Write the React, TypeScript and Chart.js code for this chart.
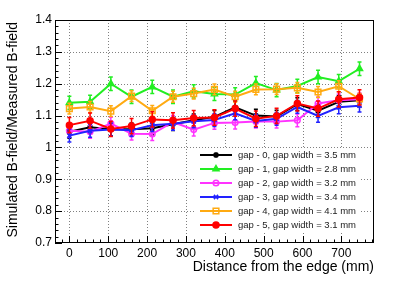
import React, { useEffect, useRef } from 'react';
import { Chart, registerables } from 'chart.js';
import { drawPoint } from 'chart.js/helpers';

Chart.register(...registerables);

// Distance from the edge (mm)
const distances = [0, 53.3, 106.7, 160, 213.3, 266.7, 320, 373.3, 426.7, 480, 533.3, 586.7, 640, 693.3, 746.7];

// Simulated / measured B-field ratio per gap
const gap0 = [1.049, 1.063, 1.057, 1.057, 1.060, 1.073, 1.085, 1.096, 1.126, 1.100, 1.097, 1.136, 1.115, 1.143, 1.148];
const gap1 = [1.140, 1.143, 1.200, 1.159, 1.190, 1.159, 1.176, 1.168, 1.166, 1.202, 1.180, 1.193, 1.221, 1.208, 1.247];
const gap2 = [1.052, 1.049, 1.075, 1.043, 1.042, 1.080, 1.056, 1.077, 1.078, 1.081, 1.081, 1.085, 1.138, 1.148, 1.151];
const gap3 = [1.037, 1.052, 1.056, 1.054, 1.070, 1.074, 1.082, 1.086, 1.107, 1.083, 1.090, 1.127, 1.099, 1.126, 1.131];
const gap4 = [1.122, 1.127, 1.114, 1.161, 1.115, 1.159, 1.169, 1.182, 1.159, 1.182, 1.183, 1.187, 1.174, 1.192, 1.152];
const gap5 = [1.070, 1.084, 1.058, 1.067, 1.088, 1.085, 1.092, 1.094, 1.122, 1.090, 1.099, 1.138, 1.122, 1.151, 1.157];

// Uncertainty per series
const errGap0 = 0.02;
const errGap1 = 0.021;
const errGap2 = 0.02;
const errGap3 = 0.02;
const errGap4 = 0.017;
const errGap5 = 0.024;

const seriesLabels = [
  'gap - 0, gap width = 3.5 mm',
  'gap - 1, gap width = 2.8 mm',
  'gap - 2, gap width = 3.2 mm',
  'gap - 3, gap width = 3.4 mm',
  'gap - 4, gap width = 4.1 mm',
  'gap - 5, gap width = 3.1 mm',
];

const xTickValues = [0, 100, 200, 300, 400, 500, 600, 700];
const yTickValues = [0.7, 0.8, 0.9, 1.0, 1.1, 1.2, 1.3, 1.4];

const xTitle = 'Distance from the edge (mm)';
const yTitle = 'Simulated B-field/Measured B-field';

const FONT = '"Liberation Sans", Arial, Helvetica, sans-serif';

const seriesValues = [gap0, gap1, gap2, gap3, gap4, gap5];
const seriesErrors = [errGap0, errGap1, errGap2, errGap3, errGap4, errGap5];
const seriesStyles = [
  { color: '#000000', pointStyle: 'star', radius: 3, fill: '#000000' },
  { color: '#22ee22', pointStyle: 'triangle', radius: 3.5, fill: '#22ee22' },
  { color: '#ff33ff', pointStyle: 'circle', radius: 2.8, fill: 'rgba(0,0,0,0)' },
  { color: '#2222ff', pointStyle: 'crossRot', radius: 3, fill: '#2222ff' },
  { color: '#ffaa11', pointStyle: 'rect', radius: 4, fill: 'rgba(0,0,0,0)' },
  { color: '#ff0000', pointStyle: 'circle', radius: 3, fill: '#ff0000' },
];

const rootPlugin = {
  id: 'rootStyle',
  beforeDatasetsDraw(chart: any) {
    const { ctx, chartArea, scales } = chart;
    const { left, right, top, bottom } = chartArea;
    const xs = scales.x;
    const ys = scales.y;
    ctx.save();
    // grid
    ctx.strokeStyle = '#808080';
    ctx.lineWidth = 1;
    ctx.setLineDash([1, 2]);
    xTickValues.forEach((v) => {
      const px = Math.round(xs.getPixelForValue(v)) + 0.5;
      if (px <= left + 1 || px >= right - 1) return;
      ctx.beginPath();
      ctx.moveTo(px, top);
      ctx.lineTo(px, bottom);
      ctx.stroke();
    });
    yTickValues.forEach((v) => {
      const py = Math.round(ys.getPixelForValue(v)) + 0.5;
      if (py <= top + 1 || py >= bottom - 1) return;
      ctx.beginPath();
      ctx.moveTo(left, py);
      ctx.lineTo(right, py);
      ctx.stroke();
    });
    ctx.setLineDash([]);
    // ticks
    ctx.strokeStyle = '#000';
    ctx.lineWidth = 1;
    const xMinor = 20;
    for (let v = Math.ceil(xs.min / xMinor) * xMinor; v <= xs.max; v += xMinor) {
      const px = Math.round(xs.getPixelForValue(v)) + 0.5;
      const major = Math.abs(v % 100) < 1e-6;
      ctx.beginPath();
      ctx.moveTo(px, bottom);
      ctx.lineTo(px, bottom - (major ? 7 : 3.5));
      ctx.stroke();
    }
    const yMinor = 0.02;
    for (let k = 0; k <= Math.round((ys.max - ys.min) / yMinor); k++) {
      const v = ys.min + k * yMinor;
      const py = Math.round(ys.getPixelForValue(v)) + 0.5;
      const major = k % 5 === 0;
      ctx.beginPath();
      ctx.moveTo(left, py);
      ctx.lineTo(left + (major ? 7 : 3.5), py);
      ctx.stroke();
    }
    // frame
    ctx.strokeRect(left + 0.5, top + 0.5, right - left - 1, bottom - top - 1);
    ctx.restore();
  },
  beforeDatasetDraw(chart: any, args: any) {
    const { ctx } = chart;
    const ys = chart.scales.y;
    const i = args.index;
    const style = seriesStyles[i];
    const err = seriesErrors[i];
    const vals = seriesValues[i];
    ctx.save();
    ctx.strokeStyle = style.color;
    ctx.lineWidth = 1.5;
    args.meta.data.forEach((pt: any, j: number) => {
      const x = pt.x;
      const y1 = ys.getPixelForValue(vals[j] + err);
      const y2 = ys.getPixelForValue(vals[j] - err);
      ctx.beginPath();
      ctx.moveTo(x, y1);
      ctx.lineTo(x, y2);
      ctx.moveTo(x - 2, y1);
      ctx.lineTo(x + 2, y1);
      ctx.moveTo(x - 2, y2);
      ctx.lineTo(x + 2, y2);
      ctx.stroke();
    });
    ctx.restore();
  },
  afterDatasetsDraw(chart: any) {
    const { ctx } = chart;
    ctx.save();
    // legend box
    ctx.fillStyle = '#ffffff';
    ctx.fillRect(196, 148, 165, 83);
    seriesLabels.forEach((label, i) => {
      const style = seriesStyles[i];
      const cy = 155 + i * 14;
      ctx.strokeStyle = style.color;
      ctx.lineWidth = 2;
      ctx.beginPath();
      ctx.moveTo(200, cy);
      ctx.lineTo(232, cy);
      ctx.stroke();
      ctx.fillStyle = style.fill;
      ctx.lineWidth = 1.5;
      drawPoint(ctx, { pointStyle: style.pointStyle, radius: style.radius, rotation: 0, borderWidth: 1.5 } as any, 216, cy);
      ctx.fillStyle = '#222';
      ctx.font = `9.5px ${FONT}`;
      ctx.textAlign = 'left';
      ctx.textBaseline = 'middle';
      ctx.fillText(label, 238, cy + 0.5);
    });
    ctx.restore();
  },
  afterDraw(chart: any) {
    const { ctx, chartArea } = chart;
    ctx.save();
    ctx.fillStyle = '#000';
    ctx.font = `14px ${FONT}`;
    ctx.textAlign = 'right';
    ctx.textBaseline = 'middle';
    ctx.fillText(xTitle, chartArea.right, 267);
    ctx.translate(13.5, chartArea.top + 2);
    ctx.rotate(-Math.PI / 2);
    ctx.fillText(yTitle, 0, 0);
    ctx.restore();
  },
};

export default function App() {
  const canvasRef = useRef<HTMLCanvasElement | null>(null);

  useEffect(() => {
    const canvas = canvasRef.current;
    if (!canvas) return;
    const datasets = seriesValues.map((vals, i) => {
      const s = seriesStyles[i];
      return {
        label: seriesLabels[i],
        data: distances.map((d, j) => ({ x: d, y: vals[j] })),
        borderColor: s.color,
        backgroundColor: s.fill,
        pointBackgroundColor: s.fill,
        pointBorderColor: s.color,
        pointStyle: s.pointStyle as any,
        pointRadius: s.radius,
        pointBorderWidth: 1.5,
        borderWidth: 2,
        fill: false,
        tension: 0,
        order: seriesValues.length - 1 - i,
      };
    });
    const chart = new Chart(canvas, {
      type: 'line',
      data: { datasets },
      options: {
        responsive: false,
        animation: false,
        devicePixelRatio: 1,
        layout: { padding: { top: 20, right: 41, left: 0, bottom: 0 } },
        plugins: { legend: { display: false }, tooltip: { enabled: false } },
        scales: {
          x: {
            type: 'linear',
            min: -37,
            max: 784,
            afterBuildTicks: (scale: any) => {
              scale.ticks = xTickValues.map((v) => ({ value: v }));
            },
            afterFit: (scale: any) => {
              scale.height = 38;
            },
            grid: { display: false, drawTicks: false },
            border: { display: false },
            ticks: {
              padding: 3,
              maxRotation: 0,
              autoSkip: false,
              color: '#000',
              font: { family: FONT, size: 12 },
              callback: (v: any) => String(v),
            },
          },
          y: {
            type: 'linear',
            min: 0.7,
            max: 1.4,
            afterBuildTicks: (scale: any) => {
              scale.ticks = yTickValues.map((v) => ({ value: v }));
            },
            afterFit: (scale: any) => {
              scale.width = 55;
            },
            grid: { display: false, drawTicks: false },
            border: { display: false },
            ticks: {
              padding: 3,
              autoSkip: false,
              color: '#000',
              font: { family: FONT, size: 12 },
              callback: (v: any) => (Math.abs(Number(v) - 1) < 1e-9 ? '1' : Number(v).toFixed(1)),
            },
          },
        },
      },
      plugins: [rootPlugin],
    });
    return () => chart.destroy();
  }, []);

  return (
    <div style={{ position: 'absolute', left: 0, top: 0, width: 415, height: 281, background: '#fff' }}>
      <canvas ref={canvasRef} width={415} height={281} style={{ width: 415, height: 281, display: 'block' }} />
    </div>
  );
}
